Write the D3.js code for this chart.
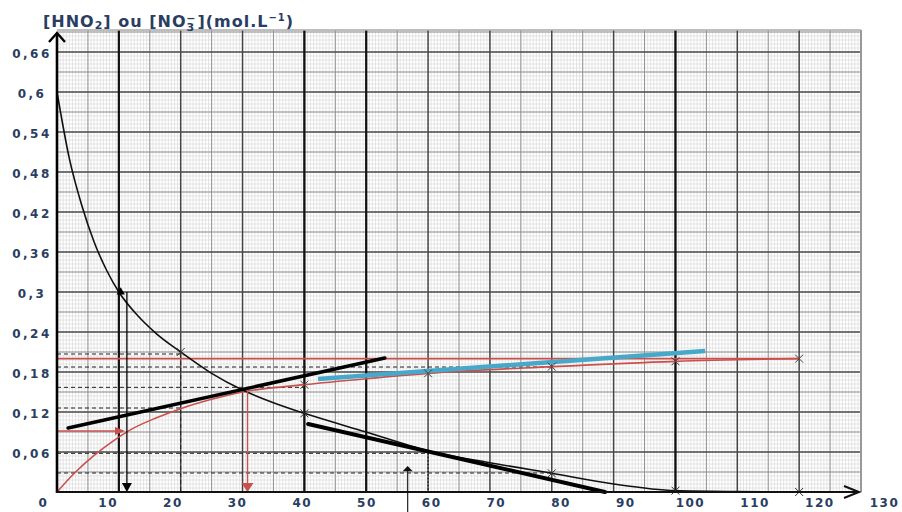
<!DOCTYPE html>
<html>
<head>
<meta charset="utf-8">
<script src="https://cdn.jsdelivr.net/npm/d3@7"></script>
<style>
    body { margin: 0; background: #fff; }
    .lab { font-family: "DejaVu Sans"; font-weight: bold; font-size: 12px; fill: #2a3d62; }
</style>
</head>
<body>
<svg id="chart"></svg>
<script>
// values (t in min, concentration in mol/L)
const tHNO2 = [0, 2, 4, 6, 8, 10, 13, 16, 20, 25, 30, 35, 40, 50, 60, 70, 80, 90, 100, 110, 120];
const cHNO2 = [0.6, 0.5, 0.43, 0.375, 0.333, 0.30, 0.265, 0.238, 0.21, 0.178, 0.153, 0.134, 0.118, 0.09, 0.062, 0.044, 0.028, 0.012, 0.002, 0.0005, 0];
const tNO3 = [0, 3, 6, 9, 12, 16, 20, 25, 30, 40, 50, 60, 80, 100, 120];
const cNO3 = [0, 0.03, 0.055, 0.076, 0.094, 0.111, 0.125, 0.139, 0.15, 0.161, 0.17, 0.178, 0.188, 0.196, 0.2];

const crossHNO2T = [20, 40, 80, 100, 120];
const crossHNO2C = [0.21, 0.118, 0.028, 0.002, 0];
const crossNO3T = [40, 60, 80, 100, 120];
const crossNO3C = [0.161, 0.178, 0.188, 0.196, 0.2];

const plateau = 0.2;
const tangentBlack = [[1.8, 0.096], [53, 0.201]];
const tangentBlue = [[42.2, 0.1695], [104.8, 0.2115]];
const tangentLow = [[40.6, 0.102], [88.6, 0]];

// dashed reading lines: [value, t end]
const dashH = [[0.207, 20], [0.1875, 80], [0.157, 40], [0.126, 20], [0.058, 60], [0.0285, 80]];
const dashV = [[20, 0.207]];
const dottedV = [[60, 0.058]];

const tHalf = 11.3;
const tCross = 30.8;
const cRedArrow = 0.0915;
const tRedArrowEnd = 11;
const tUpArrow = 56.7;

const xTicks = d3.range(0, 131, 10);
const yTicks = [0.06, 0.12, 0.18, 0.24, 0.3, 0.36, 0.42, 0.48, 0.54, 0.6, 0.66];
const boldGridT = [10, 40, 50, 100];

const W = 902, H = 512;
const tMax = 130, cMax = 0.693;

const svg = d3.select('#chart').attr('width', W).attr('height', H);

const x = d3.scaleLinear().domain([0, tMax]).range([57, 861]);
const y = d3.scaleLinear().domain([0, cMax]).range([492, 30]);
// tick labels in the scan drift right of the grid
const xLab = d3.scaleLinear().domain([0, tMax]).range([43, 884]);

// graph paper
const grid = svg.append('g');
function vlines(vals, color, w) {
    grid.append('g').selectAll('line').data(vals).join('line')
        .attr('x1', d => x(d)).attr('x2', d => x(d))
        .attr('y1', y(0)).attr('y2', y(cMax))
        .attr('stroke', color).attr('stroke-width', w);
}
function hlines(vals, color, w) {
    grid.append('g').selectAll('line').data(vals).join('line')
        .attr('x1', x(0)).attr('x2', x(tMax))
        .attr('y1', d => y(d)).attr('y2', d => y(d))
        .attr('stroke', color).attr('stroke-width', w);
}
vlines(d3.range(0, tMax + 0.01, 0.5), '#dadada', 0.7);
hlines(d3.range(0, cMax, 0.006), '#dadada', 0.7);
vlines(d3.range(5, tMax, 10), '#929292', 1);
hlines(d3.range(0.03, cMax, 0.06), '#929292', 1);
vlines(d3.range(10, tMax, 10), '#444', 1.5);
hlines(d3.range(0.06, cMax, 0.06), '#4a4a4a', 1.3);
vlines(boldGridT, '#111', 2.2);
vlines([tMax], '#999', 2);
hlines([cMax], '#aaa', 1.5);

// dashed reading lines
svg.append('g').selectAll('line').data(dashH).join('line')
    .attr('x1', x(0)).attr('x2', d => x(d[1]))
    .attr('y1', d => y(d[0])).attr('y2', d => y(d[0]))
    .attr('stroke', '#222').attr('stroke-width', 1).attr('stroke-dasharray', '4,3');
svg.append('g').selectAll('line').data(dashV).join('line')
    .attr('x1', d => x(d[0])).attr('x2', d => x(d[0]))
    .attr('y1', d => y(d[1])).attr('y2', y(0))
    .attr('stroke', '#222').attr('stroke-width', 1).attr('stroke-dasharray', '4,3');
svg.append('g').selectAll('line').data(dottedV).join('line')
    .attr('x1', d => x(d[0])).attr('x2', d => x(d[0]))
    .attr('y1', d => y(d[1])).attr('y2', y(0))
    .attr('stroke', '#222').attr('stroke-width', 1.5).attr('stroke-dasharray', '1.5,2');

// curves
const line = d3.line().x(d => x(d[0])).y(d => y(d[1])).curve(d3.curveMonotoneX);
const hno2 = d3.zip(tHNO2, cHNO2);
const no3 = d3.zip(tNO3, cNO3);

svg.append('line')
    .attr('x1', x(0)).attr('x2', x(120))
    .attr('y1', y(plateau)).attr('y2', y(plateau))
    .attr('stroke', '#c9504c').attr('stroke-width', 1.6);

svg.append('path').datum(no3).attr('d', line)
    .attr('fill', 'none').attr('stroke', '#c9504c').attr('stroke-width', 1.6);
svg.append('path').datum(hno2).attr('d', line)
    .attr('fill', 'none').attr('stroke', '#111').attr('stroke-width', 1.6);

const straight = d3.line().x(d => x(d[0])).y(d => y(d[1]));
svg.append('path').datum(tangentBlack).attr('d', straight)
    .attr('stroke', '#000').attr('stroke-width', 3.5).attr('stroke-linecap', 'round');
svg.append('path').datum(tangentBlue).attr('d', straight)
    .attr('stroke', '#47a8c9').attr('stroke-width', 4.5);
svg.append('path').datum(tangentLow).attr('d', straight)
    .attr('stroke', '#000').attr('stroke-width', 4).attr('stroke-linecap', 'round');

// arrows
function arrowDown(t, c0, color, w, h) {
    svg.append('line')
        .attr('x1', x(t)).attr('x2', x(t)).attr('y1', y(c0)).attr('y2', y(0) - h)
        .attr('stroke', color).attr('stroke-width', 1.3);
    svg.append('path')
        .attr('d', `M${x(t) - w / 2},${y(0) - h}L${x(t) + w / 2},${y(0) - h}L${x(t)},${y(0)}Z`)
        .attr('fill', color);
}
arrowDown(tHalf, 0.3, '#000', 10, 9);
arrowDown(tCross, 0.152, '#c9504c', 12, 9);

svg.append('line')
    .attr('x1', x(0)).attr('x2', x(tRedArrowEnd) - 9)
    .attr('y1', y(cRedArrow)).attr('y2', y(cRedArrow))
    .attr('stroke', '#c9504c').attr('stroke-width', 1.3);
svg.append('path')
    .attr('d', `M${x(tRedArrowEnd) - 10},${y(cRedArrow) - 4}L${x(tRedArrowEnd)},${y(cRedArrow)}L${x(tRedArrowEnd) - 10},${y(cRedArrow) + 4}Z`)
    .attr('fill', '#c9504c');

svg.append('line')
    .attr('x1', x(tUpArrow)).attr('x2', x(tUpArrow))
    .attr('y1', y(-0.03)).attr('y2', y(0.032))
    .attr('stroke', '#222').attr('stroke-width', 1.2);
svg.append('path')
    .attr('d', `M${x(tUpArrow) - 5},${y(0.031)}L${x(tUpArrow) + 5},${y(0.031)}L${x(tUpArrow)},${y(0.039)}Z`)
    .attr('fill', '#111');

// small marker at the half-life reading
svg.append('path')
    .attr('transform', `translate(${x(10.3)},${y(0.3)})`)
    .attr('d', d3.symbol(d3.symbolTriangle, 30))
    .attr('fill', '#000');

// crosses
const cross = 'M-4,-4L4,4M-4,4L4,-4';
svg.append('g').selectAll('path').data(d3.zip(crossHNO2T, crossHNO2C)).join('path')
    .attr('transform', d => `translate(${x(d[0])},${y(d[1])})`)
    .attr('d', cross).attr('stroke', '#333').attr('stroke-width', 1);
svg.append('g').selectAll('path').data(d3.zip(crossNO3T, crossNO3C)).join('path')
    .attr('transform', d => `translate(${x(d[0])},${y(d[1])})`)
    .attr('d', cross).attr('stroke', '#444').attr('stroke-width', 1);

// axes lines with open arrowheads
svg.append('line')
    .attr('x1', x(0)).attr('x2', x(0)).attr('y1', y(0) + 1).attr('y2', 33)
    .attr('stroke', '#000').attr('stroke-width', 2.6);
svg.append('path').attr('d', `M${x(0) - 8},42L${x(0)},33L${x(0) + 8},42`)
    .attr('fill', 'none').attr('stroke', '#000').attr('stroke-width', 2.4);
svg.append('line')
    .attr('x1', x(0) - 1).attr('x2', 859).attr('y1', y(0)).attr('y2', y(0))
    .attr('stroke', '#111').attr('stroke-width', 2);
svg.append('path').attr('d', `M844,${y(0) - 6}L859,${y(0)}L844,${y(0) + 6}`)
    .attr('fill', 'none').attr('stroke', '#111').attr('stroke-width', 2);

// tick labels
const yAxis = svg.append('g')
    .attr('transform', `translate(${x(0)},0)`)
    .call(d3.axisLeft(y).tickValues(yTicks).tickSize(0)
        .tickFormat(d => String(+d.toFixed(2)).replace('.', ',')));
yAxis.select('.domain').remove();
yAxis.selectAll('text')
    .attr('class', 'lab').attr('x', -25).attr('dy', '0.42em')
    .attr('text-anchor', 'middle').style('letter-spacing', '2.5px');

const xAxis = svg.append('g')
    .attr('transform', `translate(0,${y(0)})`)
    .call(d3.axisBottom(xLab).tickValues(xTicks).tickSize(0));
xAxis.select('.domain').remove();
xAxis.selectAll('text')
    .attr('class', 'lab').attr('y', 15).attr('dy', 0)
    .style('letter-spacing', '1.5px');

// title
const title = svg.append('text')
    .attr('x', 43).attr('y', 27)
    .attr('class', 'lab').style('font-size', '16px').style('letter-spacing', '1px');
title.append('tspan').text('[HNO');
title.append('tspan').text('2').style('font-size', '11px').attr('dy', 2);
title.append('tspan').text('] ou [NO').attr('dy', -2);
title.append('tspan').text('3').style('font-size', '11px').attr('dy', 4);
title.append('tspan').text('−').style('font-size', '11px').attr('dx', -9).attr('dy', -9);
title.append('tspan').text('](mol.L').attr('dy', 5).attr('dx', 1);
title.append('tspan').text('−1').style('font-size', '10px').attr('dy', -6);
title.append('tspan').text(')').attr('dy', 6);
</script>
</body>
</html>
